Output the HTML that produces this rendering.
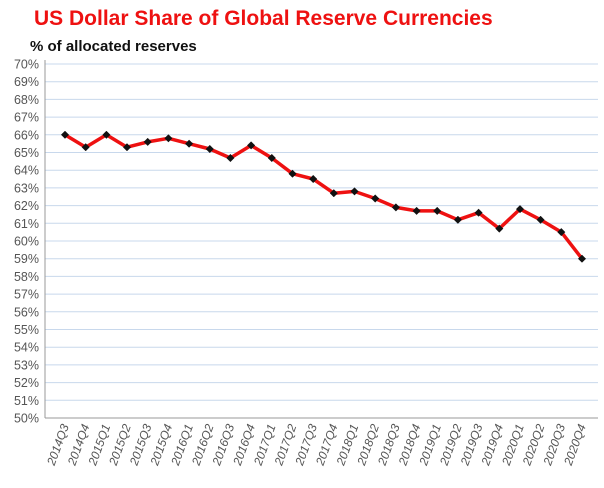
<!DOCTYPE html><html><head><style>body{margin:0;background:#fff}</style></head><body>
<svg width="604" height="483" xmlns="http://www.w3.org/2000/svg" font-family="Liberation Sans, sans-serif">
<defs><marker id="d" markerWidth="8" markerHeight="8" refX="4" refY="4" markerUnits="userSpaceOnUse"><path d="M4 0L8 4L4 8L0 4Z" fill="#111"/></marker></defs>
<text x="34" y="25" fill="#ee1111" font-size="21" font-weight="bold">US Dollar Share of Global  Reserve Currencies</text>
<text x="30" y="51" fill="#111" font-size="15" font-weight="bold">% of allocated reserves</text>
<g stroke="#c8d8ec">
<line x1="45" x2="598" y1="400.3" y2="400.3"/><line x1="45" x2="598" y1="382.6" y2="382.6"/><line x1="45" x2="598" y1="364.9" y2="364.9"/><line x1="45" x2="598" y1="347.2" y2="347.2"/><line x1="45" x2="598" y1="329.5" y2="329.5"/><line x1="45" x2="598" y1="311.8" y2="311.8"/><line x1="45" x2="598" y1="294.1" y2="294.1"/><line x1="45" x2="598" y1="276.4" y2="276.4"/><line x1="45" x2="598" y1="258.7" y2="258.7"/><line x1="45" x2="598" y1="241" y2="241"/><line x1="45" x2="598" y1="223.3" y2="223.3"/><line x1="45" x2="598" y1="205.6" y2="205.6"/><line x1="45" x2="598" y1="187.9" y2="187.9"/><line x1="45" x2="598" y1="170.2" y2="170.2"/><line x1="45" x2="598" y1="152.5" y2="152.5"/><line x1="45" x2="598" y1="134.8" y2="134.8"/><line x1="45" x2="598" y1="117.1" y2="117.1"/><line x1="45" x2="598" y1="99.4" y2="99.4"/><line x1="45" x2="598" y1="81.7" y2="81.7"/><line x1="45" x2="598" y1="64" y2="64"/>
</g>
<g font-size="12.5" fill="#555" text-anchor="end">
<text x="39" y="422.5">50%</text><text x="39" y="404.8">51%</text><text x="39" y="387.1">52%</text><text x="39" y="369.4">53%</text><text x="39" y="351.7">54%</text><text x="39" y="334">55%</text><text x="39" y="316.3">56%</text><text x="39" y="298.6">57%</text><text x="39" y="280.9">58%</text><text x="39" y="263.2">59%</text><text x="39" y="245.5">60%</text><text x="39" y="227.8">61%</text><text x="39" y="210.1">62%</text><text x="39" y="192.4">63%</text><text x="39" y="174.7">64%</text><text x="39" y="157">65%</text><text x="39" y="139.3">66%</text><text x="39" y="121.6">67%</text><text x="39" y="103.9">68%</text><text x="39" y="86.2">69%</text><text x="39" y="68.5">70%</text>
</g>
<line x1="45" y1="60" x2="45" y2="418" stroke="#999"/>
<line x1="45" y1="418" x2="598" y2="418" stroke="#999"/>
<g font-size="12" font-style="italic" fill="#555" text-anchor="end">
<text transform="translate(69,426) rotate(-70)">2014Q3</text>
<text transform="translate(89.7,426) rotate(-70)">2014Q4</text>
<text transform="translate(110.4,426) rotate(-70)">2015Q1</text>
<text transform="translate(131,426) rotate(-70)">2015Q2</text>
<text transform="translate(151.7,426) rotate(-70)">2015Q3</text>
<text transform="translate(172.4,426) rotate(-70)">2015Q4</text>
<text transform="translate(193.1,426) rotate(-70)">2016Q1</text>
<text transform="translate(213.8,426) rotate(-70)">2016Q2</text>
<text transform="translate(234.4,426) rotate(-70)">2016Q3</text>
<text transform="translate(255.1,426) rotate(-70)">2016Q4</text>
<text transform="translate(275.8,426) rotate(-70)">2017Q1</text>
<text transform="translate(296.5,426) rotate(-70)">2017Q2</text>
<text transform="translate(317.2,426) rotate(-70)">2017Q3</text>
<text transform="translate(337.8,426) rotate(-70)">2017Q4</text>
<text transform="translate(358.5,426) rotate(-70)">2018Q1</text>
<text transform="translate(379.2,426) rotate(-70)">2018Q2</text>
<text transform="translate(399.9,426) rotate(-70)">2018Q3</text>
<text transform="translate(420.6,426) rotate(-70)">2018Q4</text>
<text transform="translate(441.2,426) rotate(-70)">2019Q1</text>
<text transform="translate(461.9,426) rotate(-70)">2019Q2</text>
<text transform="translate(482.6,426) rotate(-70)">2019Q3</text>
<text transform="translate(503.3,426) rotate(-70)">2019Q4</text>
<text transform="translate(524,426) rotate(-70)">2020Q1</text>
<text transform="translate(544.6,426) rotate(-70)">2020Q2</text>
<text transform="translate(565.3,426) rotate(-70)">2020Q3</text>
<text transform="translate(586,426) rotate(-70)">2020Q4</text>
</g>
<polyline fill="none" stroke="#ee1111" stroke-width="3.5" stroke-linejoin="round" marker-start="url(#d)" marker-mid="url(#d)" marker-end="url(#d)" points="65,134.8 85.7,147.2 106.4,134.8 127,147.2 147.7,141.9 168.4,138.3 189.1,143.7 209.8,149 230.4,158 251.1,145.4 271.8,158 292.5,173.7 313.2,179 333.8,193.2 354.5,191.4 375.2,198.5 395.9,207.4 416.6,210.9 437.2,210.9 457.9,219.8 478.6,212.7 499.3,228.6 520,209.1 540.6,219.8 561.3,232.1 582,258.7"/>
</svg></body></html>
